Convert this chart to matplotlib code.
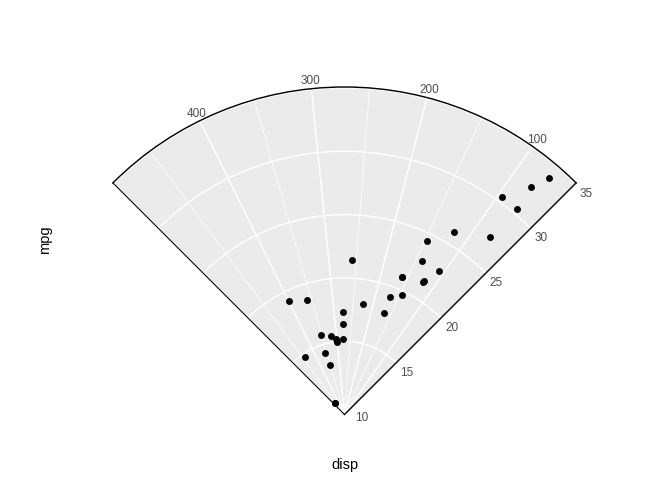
import numpy as np
import matplotlib
matplotlib.use("Agg")
import matplotlib.pyplot as plt
from matplotlib.ticker import FixedLocator

plt.rcParams['font.family'] = ['Liberation Sans', 'DejaVu Sans']

# mtcars: displacement and miles per gallon
disp = [160, 160, 108, 258, 360, 225, 360, 146.7, 140.8, 167.6, 167.6, 275.8,
        275.8, 275.8, 472, 460, 440, 78.7, 75.7, 71.1, 120.1, 318, 304, 350,
        400, 79, 120.3, 95.1, 351, 145, 301, 121]
mpg = [21.0, 21.0, 22.8, 21.4, 18.7, 18.1, 14.3, 24.4, 22.8, 19.2, 17.8, 16.4,
       17.3, 15.2, 10.4, 10.4, 14.7, 32.4, 30.4, 33.9, 21.5, 15.5, 15.2, 13.3,
       19.2, 27.3, 26.0, 30.4, 15.8, 19.7, 15.0, 21.4]
theta_breaks = [100, 200, 300, 400]
theta_minor = [150, 250, 350, 450]
r_breaks = [10, 15, 20, 25, 30, 35]

disp_a = np.asarray(disp, float)
mpg_a = np.asarray(mpg, float)

# expanded scale limits (5%)
dlo, dhi = disp_a.min(), disp_a.max()
dpad = 0.05 * (dhi - dlo)
dlim = (dlo - dpad, dhi + dpad)
rlo, rhi = mpg_a.min(), mpg_a.max()
rpad = 0.05 * (rhi - rlo)
rlim = (rlo - rpad, rhi + rpad)

c = (np.pi / 2) / (dlim[1] - dlim[0])  # 90 degree wedge

W, H = 672, 480
bw, bh = 463 * np.sqrt(2), 327.5 * np.sqrt(2)
cx, cy = 344.5, 250.75
fig = plt.figure(figsize=(7, 5), dpi=96)
ax = fig.add_axes([(cx - bw / 2) / W, (H - cy - bh / 2) / H, bw / W, bh / H],
                  projection='polar')
ax.set_facecolor('#EBEBEB')
ax.set_theta_offset(np.pi / 2 - (dlim[0] + dlim[1]) / 2 * c)
ax.set_thetalim(dlim[0] * c, dlim[1] * c)
ax.set_rlim(rlim[0], rlim[1])

ax.set_xticks(np.array(theta_breaks) * c)
ax.set_xticklabels([str(b) for b in theta_breaks])
ax.xaxis.set_minor_locator(FixedLocator(np.array(theta_minor) * c))
ax.set_yticks(r_breaks)
ax.set_yticklabels([str(b) for b in r_breaks])

ax.grid(which='major', color='white', linewidth=1.07)
ax.grid(which='minor', axis='x', color='white', linewidth=0.53)
ax.tick_params(which='minor', length=0)
ax.tick_params(which='major', colors='#333333', labelcolor='#4D4D4D',
               labelsize=8.8, length=2.75, width=1.07)
ax.tick_params(axis='x', which='major', pad=-4)
ax.tick_params(axis='y', which='major', pad=1.5)

# outer arc and the radial axis edge (low-disp side, on the right) in black
for name, sp in ax.spines.items():
    if name in ('polar', 'start'):
        sp.set_visible(True)
        sp.set_color('black')
        sp.set_linewidth(1.07)
    else:
        sp.set_visible(False)

ax.scatter(disp_a * c, mpg_a, s=5.2 ** 2, color='black', zorder=5,
           linewidths=0, clip_on=False)

fig.text(45 / 672, 1 - 240 / 480, 'mpg', rotation=90, ha='center',
         va='center', fontsize=11, color='black')
fig.text(345 / 672, 1 - 465 / 480, 'disp', ha='center', va='center',
         fontsize=11, color='black')

fig.savefig('out.png', dpi=96)
